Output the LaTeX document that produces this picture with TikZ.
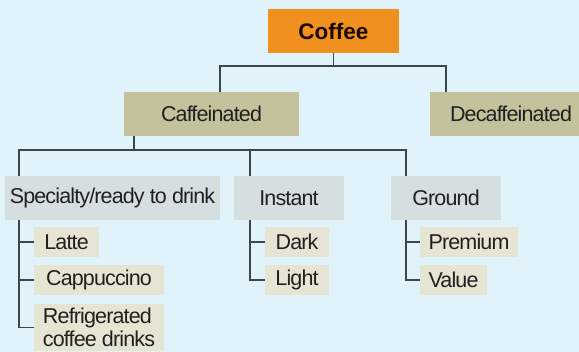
\documentclass[tikz,border=0pt]{standalone}
\usepackage{fontspec}
\setmainfont{Liberation Sans}
\newfontfamily\lblfont[LetterSpace=-4]{Liberation Sans}
\definecolor{bgc}{HTML}{E0F2FA}
\definecolor{orangec}{HTML}{F0901E}
\definecolor{tanc}{HTML}{C4C19D}
\definecolor{grayc}{HTML}{D5DFE0}
\definecolor{leafc}{HTML}{E6E5D3}
\definecolor{txtc}{HTML}{231F20}
\definecolor{coffeetxt}{HTML}{1A0800}
\definecolor{linec}{HTML}{3D464B}
\begin{document}
\begin{tikzpicture}[x=1pt,y=-1pt,
  box/.style={inner sep=0pt, outer sep=0pt, anchor=north west,
    font=\lblfont\fontsize{21.5}{23}\selectfont, text=txtc},
  topbox/.style={box, fill=orangec, minimum width=131pt, minimum height=44pt,
    font=\fontsize{22.5}{24}\selectfont\bfseries, text=coffeetxt},
  midbox/.style={box, fill=tanc, minimum height=44pt},
  subbox/.style={box, fill=grayc, minimum height=44pt},
  leafbox/.style={box, fill=leafc, minimum height=30pt},
  conn/.style={draw=linec, line width=1.1pt}]
\useasboundingbox (0,0) rectangle (579,352);
\clip (0,0) rectangle (579,352);
\fill[bgc] (0,0) rectangle (579,352);

\node[topbox] (coffee) at (268,9) {Coffee};
\node[midbox, minimum width=175pt] (caf) at (124,92) {Caffeinated};
\node[midbox, minimum width=162pt] (decaf) at (430,92) {Decaffeinated};

\node[subbox, minimum width=215pt] (spec) at (5,176) {Specialty/ready to drink};
\node[subbox, minimum width=110pt] (inst) at (234,176) {Instant};
\node[subbox, minimum width=110pt] (grnd) at (391,176) {Ground};

\node[leafbox, minimum width=65pt] (latte) at (34,227) {Latte};
\node[leafbox, minimum width=130pt] (capp) at (34,265) {Cappuccino};
\node[leafbox, minimum width=130pt, align=left, inner xsep=7pt, inner ysep=4pt] (refr) at (34,304) {Refrigerated\\coffee drinks};
\node[leafbox, minimum width=64pt] (dark) at (265,227) {Dark};
\node[leafbox, minimum width=64pt] (light) at (265,265) {Light};
\node[leafbox, minimum width=98pt] (prem) at (420,227) {Premium};
\node[leafbox, minimum width=67pt] (val) at (420,265) {Value};

% level 1 connectors
\draw[conn] (coffee.south) -- ++(0,13) coordinate (b1);
\coordinate (cafin) at ([xshift=8.5pt]caf.north);
\coordinate (decin) at ([xshift=16pt]decaf.north west);
\draw[conn] (cafin) |- (b1) -| (decin);

% level 2 connectors
\draw[conn] ([xshift=10pt]caf.south west) -- ++(0,14) coordinate (b2);
\coordinate (specin) at ([xshift=14pt]spec.north west);
\coordinate (instin) at ([xshift=16pt]inst.north west);
\coordinate (grndin) at ([xshift=15pt]grnd.north west);
\draw[conn] (specin) |- (b2) -| (grndin);
\draw[conn] (instin) -- (instin |- b2);

% leaf connectors
\coordinate (specout) at ([xshift=14pt]spec.south west);
\coordinate (instout) at ([xshift=16pt]inst.south west);
\coordinate (grndout) at ([xshift=15pt]grnd.south west);
\draw[conn] (specout) |- (latte.west);
\draw[conn] (specout) |- (capp.west);
\draw[conn] (specout) |- (refr.west);
\draw[conn] (instout) |- (dark.west);
\draw[conn] (instout) |- (light.west);
\draw[conn] (grndout) |- (prem.west);
\draw[conn] (grndout) |- (val.west);
\end{tikzpicture}
\end{document}
